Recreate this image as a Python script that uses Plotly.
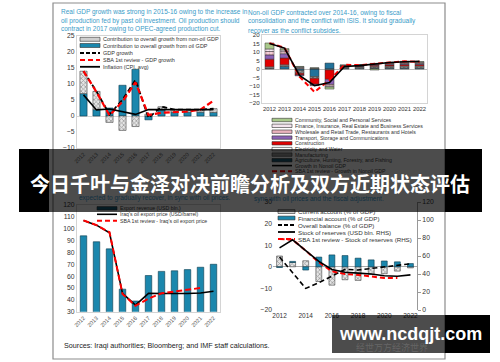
import plotly.graph_objects as go

W, H = 500, 362
def px(x): return x / W
def py(y): return 1 - y / H

FONT = "Liberation Sans, Arial, sans-serif"
TEAL = "#3a9bc8"
BLUE = "#1b87ad"
BLUE_LINE = "#0c3a4e"
RED = "#ff0000"

years = list(range(2012, 2023))
year_labels = [str(y) for y in years]

# Panel 1: real GDP growth contributions
oil_contrib = [7.0, 2.0, 2.5, 9.6, 14.6, -1.2, 2.0, 1.2, 1.2, 1.2, 1.1]
nonoil_contrib = [7.0, 5.7, -2.0, -4.5, -3.3, 0.6, 0.9, 0.8, 0.8, 0.8, 1.2]
gdp_growth = [14.0, 7.7, 0.5, 5.1, 11.3, -0.6, 2.9, 2.0, 2.0, 2.0, 2.3]
sba_gdp_growth = [14.0, 7.5, 0.2, 4.5, 10.5, 0.3, 1.0, 1.2, 1.4, 2.0, 4.8]
inflation = [6.6, 1.9, 2.2, 1.4, 0.5, 2.0, 2.0, 2.0, 2.0, 2.0, 2.0]

# Panel 2: non-oil GDP growth by sector
agri = [0.3, 1.5, -1.0, -4.5, 3.5, 0.4, 0.4, 0.4, 0.5, 0.5, 0.5]
manuf = [0.5, 0.5, -1.5, -1.0, -0.3, 0.5, 0.6, 0.8, 0.8, 0.9, 0.9]
elec = [0.5, 0.5, 0.3, 0.2, -0.3, 0.3, 0.3, 0.4, 0.4, 0.4, 0.4]
constr = [4.5, 4.0, -1.0, -3.5, -5.5, 0.3, 0.3, 0.6, 0.7, 0.8, 0.8]
transport = [2.5, 2.5, -0.5, -0.5, -3.0, 0.2, 0.3, 0.4, 0.4, 0.5, 0.5]
wholesale = [2.0, 1.2, 0.5, -0.3, -1.0, 0.3, 0.3, 0.4, 0.4, 0.5, 0.5]
finance = [1.5, 1.0, 0.4, 0.3, -0.5, 0.2, 0.2, 0.3, 0.3, 0.4, 0.4]
community = [3.5, 0.8, 0.3, 0.2, -1.2, 0.2, 0.2, -0.6, 0.3, 0.5, 0.4]
nonoil_growth = [15.0, 12.3, -3.8, -9.8, -8.0, 1.5, 2.0, 3.0, 3.8, 4.3, 4.5]
sba_nonoil_growth = [15.2, 12.5, -4.5, -13.5, -6.5, 2.5, 2.2, 3.2, 3.8, 4.5, 4.2]

# Panel 3: exports
export_revenue = [94, 89, 83, 49, 39, 60.5, 64, 64.5, 65.5, 67.5, 70]
oil_price = [107, 103, 96.5, 45.5, 35.5, 45.5, 45.3, 45, 45.3, 45.8, 47.3]
sba_oil_price = [107, 103, 97, 45, 35, 41, 45.5, 47, 48.5, 50]

# Panel 4: external accounts
current_account = [5.0, 2.0, 2.8, -6.8, -8.5, -6.0, -6.3, -3.5, -3.2, -2.0, -0.5]
financial_account = [-0.3, 0.5, -1.5, 4.5, 5.5, 5.2, 4.0, 3.2, 2.7, 2.3, 1.5]
overall_balance = [4.5, -2.5, -10.0, -7.4, -4.3, -1.2, -1.5, -0.8, -0.2, 0.6, 1.4]
reserves = [69, 78, 66, 54, 45, 42, 41, 40, 38, 37.5, 39]
sba_reserves = [79, 78, 66, 53, 43, 40, 39, 37, 35.5, 35.5]
p4_ticks = [2012, 2014, 2016, 2018, 2020, 2022]

fig = go.Figure()

hatch = dict(shape="x", fgcolor="#555555", bgcolor="#e6e6e6", size=3, solidity=0.45)

# ---- Panel 1
fig.add_bar(x=years, y=oil_contrib, xaxis="x", yaxis="y", width=0.55,
            marker=dict(color=BLUE, line=dict(color=BLUE_LINE, width=0.6)))
fig.add_bar(x=years, y=nonoil_contrib, xaxis="x", yaxis="y", width=0.55,
            marker=dict(color="#e6e6e6", pattern=hatch, line=dict(color="#444", width=0.6)))
fig.add_scatter(x=years, y=gdp_growth, xaxis="x", yaxis="y", mode="lines",
                line=dict(color="black", width=1.8, dash="5px,3px"))
fig.add_scatter(x=years, y=sba_gdp_growth, xaxis="x", yaxis="y", mode="lines",
                line=dict(color=RED, width=2.2, dash="6px,3px"))
fig.add_scatter(x=years, y=inflation, xaxis="x", yaxis="y", mode="lines",
                line=dict(color="black", width=1.6))

# ---- Panel 2
sectors = [
    (agri, "#22729a", None),
    (manuf, "#555555", dict(shape="x", fgcolor="#222", bgcolor="#aaaaaa", size=3, solidity=0.5)),
    (elec, "#ffffff", None),
    (constr, "#e00000", None),
    (transport, "#8b62b5", None),
    (wholesale, "#eab3bd", dict(shape=".", fgcolor="#c0506a", bgcolor="#f4d6dc", size=3, solidity=0.4)),
    (finance, "#f3e4ee", dict(shape=".", fgcolor="#b07090", bgcolor="#faf0f6", size=3, solidity=0.3)),
    (community, "#a9c98b", None),
]
for vals, col, pat in sectors:
    mk = dict(color=col, line=dict(color="#333", width=0.5))
    if pat:
        mk["pattern"] = pat
    fig.add_bar(x=years, y=vals, xaxis="x2", yaxis="y2", width=0.6, marker=mk)
fig.add_scatter(x=years, y=sba_nonoil_growth, xaxis="x2", yaxis="y2", mode="lines",
                line=dict(color=RED, width=2, dash="5px,3px"))
fig.add_scatter(x=years, y=nonoil_growth, xaxis="x2", yaxis="y2", mode="lines",
                line=dict(color="black", width=1.6))

# ---- Panel 3
fig.add_bar(x=years, y=export_revenue, xaxis="x3", yaxis="y3", width=0.5,
            marker=dict(color=BLUE, line=dict(color=BLUE_LINE, width=0.6)))
fig.add_scatter(x=years, y=oil_price, xaxis="x3", yaxis="y3", mode="lines",
                line=dict(color="black", width=1.6))
fig.add_scatter(x=years[:len(sba_oil_price)], y=sba_oil_price, xaxis="x3", yaxis="y3", mode="lines",
                line=dict(color=RED, width=2, dash="6px,3px"))

# ---- Panel 4
fig.add_bar(x=years, y=current_account, xaxis="x4", yaxis="y4", width=0.45,
            marker=dict(color="#e6e6e6", pattern=hatch, line=dict(color="#444", width=0.6)))
fig.add_bar(x=years, y=financial_account, xaxis="x4", yaxis="y4", width=0.45,
            marker=dict(color=BLUE, line=dict(color=BLUE_LINE, width=0.6)))
fig.add_scatter(x=years, y=overall_balance, xaxis="x4", yaxis="y4", mode="lines",
                line=dict(color="black", width=1.6, dash="5px,3px"))
fig.add_scatter(x=years[:len(sba_reserves)], y=sba_reserves, xaxis="x4", yaxis="y5", mode="lines",
                line=dict(color=RED, width=2, dash="5px,3px"))
fig.add_scatter(x=years, y=reserves, xaxis="x4", yaxis="y5", mode="lines",
                line=dict(color="black", width=1.6))

frame = dict(showline=True, mirror=True, linecolor="#d4d4d4", linewidth=1,
             showgrid=False, ticks="")

fig.update_layout(
    width=W, height=H, margin=dict(l=0, r=0, t=0, b=0, autoexpand=False),
    paper_bgcolor="white", plot_bgcolor="white",
    showlegend=False, barmode="relative",
    font=dict(family=FONT, color="#333", size=7),
    xaxis=dict(domain=[px(77), px(220)], anchor="y", range=[2011.5, 2022.5],
               tickmode="array", tickvals=years, ticktext=year_labels, tickangle=-45,
               tickfont=dict(size=5.6, color="#666"), zeroline=False, automargin=False, **frame),
    yaxis=dict(domain=[py(148), py(36)], anchor="x", range=[-10, 25], dtick=5,
               tickfont=dict(size=6.8, color="#333"), zeroline=True, zerolinecolor="#d4d4d4",
               zerolinewidth=1, automargin=False, **frame),
    xaxis2=dict(domain=[px(262), px(427)], anchor="y2", range=[2011.5, 2022.5],
                tickmode="array", tickvals=years, ticktext=year_labels, tickangle=0,
                tickfont=dict(size=5.9, color="#333"), zeroline=False, automargin=False, **frame),
    yaxis2=dict(domain=[py(103), py(35)], anchor="x2", range=[-20, 20], dtick=5,
                tickfont=dict(size=6.2, color="#333"), zeroline=True, zerolinecolor="#bbbbbb",
                zerolinewidth=1, automargin=False, **frame),
    xaxis3=dict(domain=[px(77), px(220)], anchor="y3", range=[2011.5, 2022.5],
                tickmode="array", tickvals=years, ticktext=year_labels, tickangle=-45,
                tickfont=dict(size=5.6, color="#555"), zeroline=False, automargin=False, **frame),
    yaxis3=dict(domain=[py(311.7), py(205)], anchor="x3", range=[30, 120], dtick=10,
                tickfont=dict(size=6.8, color="#333"), zeroline=False, automargin=False, **frame),
    xaxis4=dict(domain=[px(273), px(417)], anchor="y4", range=[2011.5, 2022.5],
                tickmode="array", tickvals=p4_ticks, ticktext=[str(t) for t in p4_ticks],
                tickangle=0, tickfont=dict(size=6.5, color="#333"), showline=False,
                showgrid=False, zeroline=False, ticks="", automargin=False),
    yaxis4=dict(domain=[py(310), py(202)], anchor="x4", range=[-20, 30], dtick=10,
                tickfont=dict(size=6.8, color="#333"), showline=False, showgrid=False,
                zeroline=True, zerolinecolor="#aaaaaa", zerolinewidth=1, ticks="",
                automargin=False),
    yaxis5=dict(overlaying="y4", anchor="x4", side="right", range=[0, 120], dtick=20,
                tickfont=dict(size=6.8, color="#333"), showline=True, linecolor="#999",
                linewidth=1, ticks="outside", ticklen=3, tickcolor="#999", showgrid=False,
                zeroline=False, automargin=False),
)

shapes = []
annots = []

def text(x, y, s, size=7, color="#333", anchor="left", family=FONT):
    annots.append(dict(x=px(x), y=py(y), xref="paper", yref="paper", text=s,
                       showarrow=False, xanchor=anchor, yanchor="middle", borderpad=0,
                       font=dict(size=size, color=color, family=family)))

def sw_rect(x0, x1, y, h, fill, line="#333"):
    shapes.append(dict(type="rect", xref="paper", yref="paper", x0=px(x0), x1=px(x1),
                       y0=py(y + h / 2), y1=py(y - h / 2), fillcolor=fill,
                       line=dict(color=line, width=0.6), layer="above"))

def sw_line(x0, x1, y, color, width, dash="solid"):
    shapes.append(dict(type="line", xref="paper", yref="paper", x0=px(x0), x1=px(x1),
                       y0=py(y), y1=py(y), line=dict(color=color, width=width, dash=dash),
                       layer="above"))

# page frame
shapes.append(dict(type="rect", xref="paper", yref="paper", x0=px(53), x1=px(445),
                   y0=py(359), y1=py(3), line=dict(color="#8c8c8c", width=1.2),
                   fillcolor="rgba(0,0,0,0)", layer="below"))

# titles
for i, s in enumerate(["Real GDP growth was strong in 2015-16 owing to the increase in",
                       "oil production fed by past oil investment. Oil production should",
                       "contract in 2017 owing to OPEC-agreed production cut."]):
    text(60, 12 + 8.5 * i, s, size=6.5, color=TEAL)
for i, s in enumerate(["Non-oil GDP contracted over 2014-16, owing to fiscal",
                       "consolidation and the conflict with ISIS. It should gradually",
                       "recover as the conflict subsides."]):
    text(247, 13 + 8.5 * i, s, size=6.5, color=TEAL)

DIM_TEAL = "#123041"
DIM_TXT = "#111111"
text(78, 197.5, "expected to gradually recover, in sync with oil prices.", size=6.5, color=DIM_TEAL)
text(253, 199, "sync with oil prices and the fiscal adjustment.", size=6.5, color=DIM_TEAL)

# panel 1 legend
L1 = [("rect", "#cfcfcf", "Contribution to overall growth from non-oil GDP", 39.3),
      ("rect", BLUE, "Contribution to overall growth from oil GDP", 45.5),
      ("dash", "black", "GDP growth", 53),
      ("rdash", RED, "SBA 1st review - GDP growth", 60),
      ("line", "black", "Inflation (CPI, avg)", 66.8)]
for kind, col, s, y in L1:
    if kind == "rect":
        sw_rect(80, 100, y, 4, col)
    elif kind == "dash":
        sw_line(80, 100, y, col, 1.8, "4px,2px")
    elif kind == "rdash":
        sw_line(80, 100, y, col, 2.2, "5px,3px")
    else:
        sw_line(80, 100, y, col, 1.8)
    text(102, y, s, size=5.5)

# panel 2 legend
L2 = [("rect", "#a9c98b", "Community, Social and Personal Services", 120),
      ("rect", "#f3e4ee", "Finance, Insurance, Real Estate and Business Services", 125.8),
      ("rect", "#eab3bd", "Wholesale and Retail Trade, Restaurants and Hotels", 131.7),
      ("rect", "#8b62b5", "Transport, Storage and Communications", 137.6),
      ("rect", "#e00000", "Construction", 143.3),
      ("rect", "#ffffff", "Electricity and Water", 149.1),
      ("rect", "#9a9a9a", "Manufacturing", 154.6),
      ("rect", "#1d5a72", "Agriculture, Hunting, Forestry, and Fishing", 160.2),
      ("line", "black", "Growth in Nonoil GDP", 165.6),
      ("rdash", RED, "SBA 1st review - Growth in Nonoil GDP", 171.2)]
for kind, col, s, y in L2:
    if kind == "rect":
        sw_rect(272, 292, y, 3.4, col)
    elif kind == "rdash":
        sw_line(272, 292, y, col, 2, "5px,3px")
    else:
        sw_line(272, 292, y, col, 1.6)
    text(294, y, s, size=5.2, color=(DIM_TXT if y > 148 else "#333"))

# panel 3 legend
L3 = [("rect", "#155f7a", "Export revenue (USD bln.)", 208.3),
      ("line", "black", "Iraq's oil export price (USD/barrel)", 214.3),
      ("rdash", RED, "SBA 1st review - Iraq's oil export price", 220.7)]
for kind, col, s, y in L3:
    if kind == "rect":
        sw_rect(97, 117, y, 3.4, col)
    elif kind == "rdash":
        sw_line(97, 117, y, col, 2, "5px,3px")
    else:
        sw_line(97, 117, y, col, 1.6)
    text(119, y, s, size=5.2, color=(DIM_TXT if y < 212 else "#333"))

# panel 4 legend
L4 = [("rect", "#cfcfcf", "Current account (% of GDP)", 211.6),
      ("rect", BLUE, "Financial account (% of GDP)", 218.0),
      ("dash", "black", "Overall balance (% of GDP)", 225.0),
      ("line", "black", "Stock of reserves (USD bln. RHS)", 232),
      ("rdash", RED, "SBA 1st review - Stock of reserves (RHS)", 239)]
for kind, col, s, y in L4:
    if kind == "rect":
        sw_rect(278, 295, y, 3.8, col)
    elif kind == "dash":
        sw_line(278, 295, y, col, 1.8, "4px,2px")
    elif kind == "rdash":
        sw_line(278, 295, y, col, 2, "5px,3px")
    else:
        sw_line(278, 295, y, col, 1.8)
    text(297, y, s, size=6.2, color="#333")

text(63, 345, "Sources: Iraqi authorities; Bloomberg; and IMF staff calculations.", size=7.2, color="#222")

# banner
BT, BB = 149, 212
shapes.append(dict(type="rect", xref="paper", yref="paper", x0=px(49), x1=px(445),
                   y0=py(BB), y1=py(BT), fillcolor="rgba(0,0,0,0.70)", line=dict(width=0),
                   layer="above"))
shapes.append(dict(type="rect", xref="paper", yref="paper", x0=px(19), x1=px(49),
                   y0=py(BB), y1=py(BT), fillcolor="black", line=dict(width=0), layer="above"))
shapes.append(dict(type="rect", xref="paper", yref="paper", x0=px(445), x1=px(482),
                   y0=py(BB), y1=py(BT), fillcolor="black", line=dict(width=0), layer="above"))
annots.append(dict(x=px(250), y=py(183), xref="paper", yref="paper",
                   text="<b>今日千叶与金泽对决前瞻分析及双方近期状态评估</b>", showarrow=False,
                   xanchor="center", yanchor="middle",
                   font=dict(size=20, color="white", family="Noto Sans CJK SC")))

# watermark box
shapes.append(dict(type="rect", xref="paper", yref="paper", x0=px(332), x1=px(445),
                   y0=py(353), y1=py(315), fillcolor="rgba(0,0,0,0.70)", line=dict(width=0),
                   layer="above"))
shapes.append(dict(type="rect", xref="paper", yref="paper", x0=px(445), x1=px(490),
                   y0=py(353), y1=py(315), fillcolor="black", line=dict(width=0), layer="above"))
annots.append(dict(x=px(410), y=py(334), xref="paper", yref="paper",
                   text="<b>www.ncdqjt.com</b>", showarrow=False, xanchor="center",
                   yanchor="middle", font=dict(size=18, color="white", family="Liberation Sans")))
annots.append(dict(x=px(392), y=py(347), xref="paper", yref="paper",
                   text="经世万方经济世界", showarrow=False, xanchor="center",
                   yanchor="middle", font=dict(size=9, color="rgba(255,255,255,0.15)",
                                               family="Noto Sans CJK SC")))

fig.update_layout(shapes=shapes, annotations=annots)
fig.write_html("out.html", config={"staticPlot": True, "displayModeBar": False},
               post_script="document.body.style.margin='0px';document.body.style.overflow='hidden';")
